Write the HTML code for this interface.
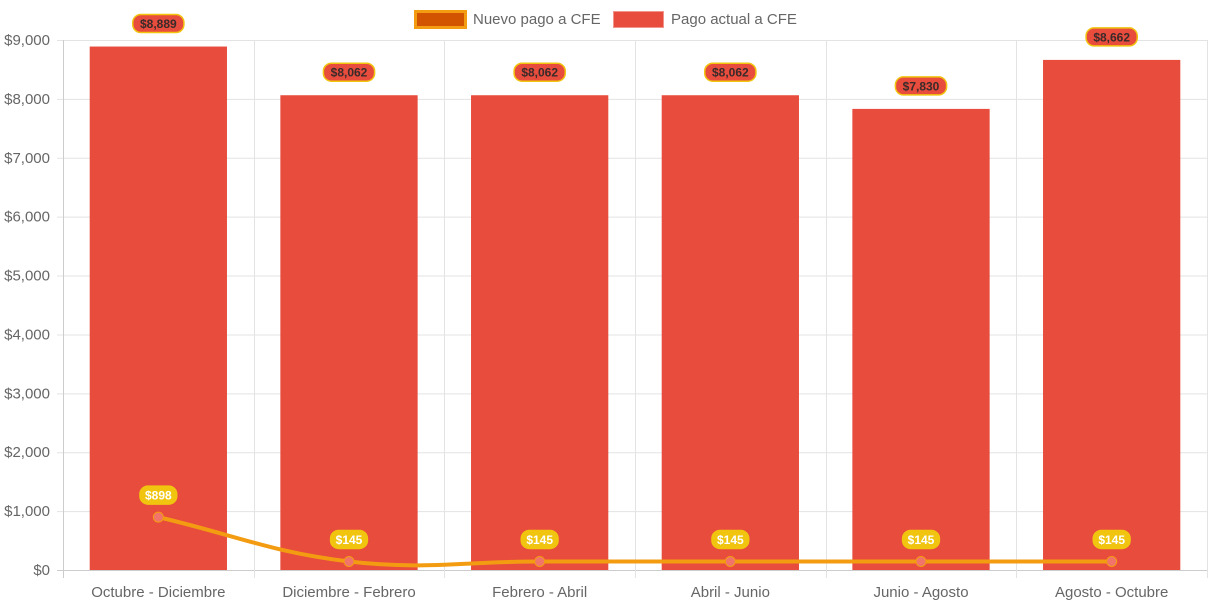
<!DOCTYPE html>
<html><head><meta charset="utf-8"><style>
html,body{margin:0;padding:0;background:#fff;}
svg{display:block;font-family:"Liberation Sans",Arial,sans-serif;}
</style></head><body>
<svg id="chart" width="1213" height="606">
<g id="legend">
  <g>
    <rect x="415.5" y="11.5" width="50" height="16" fill="#d35400" stroke="#f39c12" stroke-width="3"/>
    <text x="473" y="24" font-size="15" fill="#666">Nuevo pago a CFE</text>
  </g>
  <g>
    <rect x="613.5" y="11.5" width="50" height="16" fill="#e74c3c" stroke="#f1948a" stroke-width="1"/>
    <text x="671" y="24" font-size="15" fill="#666">Pago actual a CFE</text>
  </g>
</g>
<g id="grid"></g><g id="bars"></g><g id="line"></g><g id="labels"></g><g id="axes"></g>
</svg>
<script>
const categories=["Octubre - Diciembre","Diciembre - Febrero","Febrero - Abril","Abril - Junio","Junio - Agosto","Agosto - Octubre"];
const actualValues=[8889,8062,8062,8062,7830,8662];
const newValues=[898,145,145,145,145,145];
const yTicks=[0,1000,2000,3000,4000,5000,6000,7000,8000,9000];
const yMax=9000;
const NS="http://www.w3.org/2000/svg";
const L=63,R=1207,T=40,B=570;
const cw=(R-L)/categories.length;
const x=i=>L+cw*(i+0.5);
const y=v=>B-(v/yMax)*(B-T);
function mk(tag,attrs,parent,text){const e=document.createElementNS(NS,tag);for(const k in attrs)e.setAttribute(k,attrs[k]);if(text!==undefined)e.textContent=text;parent.appendChild(e);return e;}
const fmt=v=>"$"+v.toLocaleString("en-US");
const grid=document.getElementById("grid"),bars=document.getElementById("bars"),line=document.getElementById("line"),labels=document.getElementById("labels"),axes=document.getElementById("axes");
yTicks.forEach(t=>{
  const g=mk("line",{x1:57,x2:R,y1:y(t)+0.5,y2:y(t)+0.5,stroke:t===0?"#ccc":"#e3e3e3","stroke-width":1},grid);
  
  
  const tx=mk("text",{x:50,y:y(t)+5,"text-anchor":"end","font-size":15,fill:"#666"},axes,fmt(t));
  
  
});
for(let i=0;i<=categories.length;i++){
  const xx=Math.round(L+cw*i)+0.5;
  const g=mk("line",{x1:xx,x2:xx,y1:T,y2:578,stroke:i===0?"#ccc":"#e3e3e3","stroke-width":1},grid);
  
  
}
const bw=cw*0.72;
categories.forEach((c,i)=>{
  const r=mk("rect",{x:x(i)-bw/2,y:y(actualValues[i]),width:bw,height:B-y(actualValues[i]),fill:"#e74c3c"},bars);
  
  
  const tx=mk("text",{x:x(i),y:597,"text-anchor":"middle","font-size":15,fill:"#666"},axes,c);
  
  
});
const pts=newValues.map((v,i)=>({x:x(i),y:y(v)}));
const tension=0.4;
const cps=pts.map((p,i)=>{
  const prev=pts[i-1]||p,next=pts[i+1]||p;
  const d01=Math.hypot(p.x-prev.x,p.y-prev.y),d12=Math.hypot(next.x-p.x,next.y-p.y);
  let fa=d01/(d01+d12||1),fb=d12/(d01+d12||1);
  fa=isNaN(fa)?0:fa*tension;fb=isNaN(fb)?0:fb*tension;
  return{px:p.x-fa*(next.x-prev.x),py:p.y-fa*(next.y-prev.y),nx:p.x+fb*(next.x-prev.x),ny:p.y+fb*(next.y-prev.y)};
});
let d="M"+pts[0].x+","+pts[0].y;
for(let i=1;i<pts.length;i++)d+=" C"+cps[i-1].nx+","+cps[i-1].ny+" "+cps[i].px+","+cps[i].py+" "+pts[i].x+","+pts[i].y;
const path=mk("path",{d:d,fill:"none",stroke:"#f39c12","stroke-width":4},line);


pts.forEach((p,i)=>{
  const c=mk("circle",{cx:p.x,cy:p.y,r:5,fill:"#f1736a",stroke:"#f39c12","stroke-width":1},line);
  
  
});
function badge(cx,cy,text,bg,border,color,name){
  const w=text.length*7.2+8;
  const g=mk("g",{},labels);
  
  
  mk("rect",{x:cx-w/2,y:cy-9,width:w,height:18,rx:8,fill:bg,stroke:border,"stroke-width":1.5},g);
  mk("text",{x:cx,y:cy+4.5,"text-anchor":"middle","font-size":12,"font-weight":"bold",fill:color},g,text);
}
actualValues.forEach((v,i)=>badge(x(i),y(v)-23,fmt(v),"#e74c3c","#f1c40f","#3a2a2a","bar-value-label"));
newValues.forEach((v,i)=>badge(x(i),y(v)-22,fmt(v),"#f1c40f","#f1c40f","#fff","line-value-label"));
</script>
</body></html>
